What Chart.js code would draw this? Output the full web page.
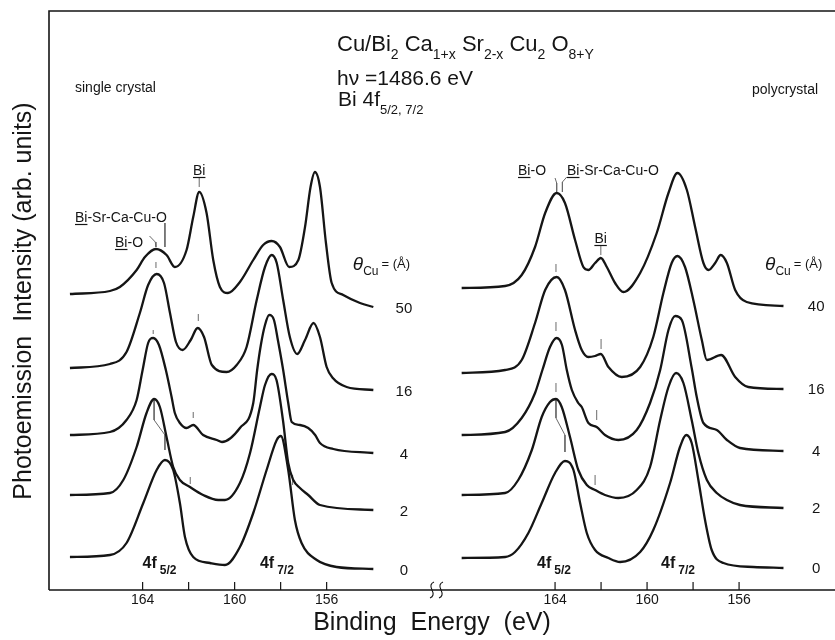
<!DOCTYPE html>
<html>
<head>
<meta charset="utf-8">
<script src="https://cdn.jsdelivr.net/npm/chart.js@4.4.1/dist/chart.umd.min.js"></script>
<style>
  html, body { margin: 0; padding: 0; background: #fff; }
  canvas { display: block; }
</style>
</head>
<body>
<canvas id="xps" width="835" height="640"></canvas>
<script>
'use strict';

const FONT = '"Liberation Sans", Arial, sans-serif';
const INK = '#151515';
const MARK = '#6a6a6a';

// binding energy (eV) and plotted height (arb. units, offsets included)
// --- single crystal, theta_Cu = 50, 16, 4, 2, 0 A ---
const SC_LABELS = ['50', '16', '4', '2', '0'];
const SC_E50 = [167.16, 165.42, 164.99, 164.26, 163.9, 163.42, 162.96, 162.6, 162.09, 161.8, 161.54, 161.22, 160.93, 160.64, 160.29, 159.77, 159.19, 158.76, 158.39, 158.03, 157.63, 157.23, 156.94, 156.7, 156.51, 156.29, 156.03, 155.78, 155.28, 154.55, 153.97];
const SC_I50 = [296, 299, 303, 320, 333, 341, 335, 323, 340, 373, 398, 377, 330, 303, 297, 308, 330, 345, 349, 343, 323, 330, 363, 403, 418, 403, 347, 307, 295, 287, 283];
const SC_E16 = [167.16, 165.42, 164.7, 164.12, 163.76, 163.39, 163.07, 162.81, 162.55, 162.26, 161.91, 161.61, 161.33, 160.99, 160.35, 159.91, 159.48, 159.04, 158.68, 158.39, 158.17, 157.89, 157.6, 157.28, 156.94, 156.57, 156.29, 156.0, 155.73, 155.13, 153.97];
const SC_I16 = [222, 226, 238, 277, 305, 316, 307, 277, 248, 240, 250, 262, 253, 225, 218, 225, 243, 290, 323, 335, 327, 290, 253, 236, 250, 267, 253, 223, 212, 203, 200];
const SC_E4 = [167.16, 165.42, 164.7, 164.26, 164.0, 163.76, 163.54, 163.29, 162.99, 162.74, 162.6, 162.38, 162.09, 161.8, 161.37, 160.78, 160.55, 159.77, 159.19, 159.02, 158.86, 158.68, 158.5, 158.29, 158.12, 157.89, 157.67, 157.52, 157.16, 156.8, 156.5, 156.29, 155.71, 153.97];
const SC_I4 = [155, 158, 170, 190, 220, 247, 252, 245, 220, 193, 177, 167, 162, 165, 155, 150, 148, 162, 187, 220, 245, 265, 275, 270, 250, 220, 187, 168, 165, 162, 155, 147, 141, 137];
const SC_E2 = [167.16, 165.42, 164.84, 164.26, 163.83, 163.5, 163.25, 162.96, 162.67, 162.38, 161.94, 161.37, 160.71, 160.42, 159.77, 159.33, 158.9, 158.68, 158.4, 158.18, 157.9, 157.67, 157.45, 157.16, 156.8, 156.29, 153.97];
const SC_I2 = [95, 97, 110, 143, 177, 191, 183, 153, 123, 110, 103, 95, 90, 90, 107, 137, 183, 205, 216, 210, 170, 127, 110, 102, 95, 85, 80];
const SC_E0 = [167.16, 165.42, 164.7, 163.97, 163.39, 163.03, 162.67, 162.38, 162.16, 161.8, 161.07, 160.42, 159.77, 159.19, 158.61, 158.17, 157.99, 157.67, 157.38, 157.09, 156.43, 155.57, 153.97];
const SC_I0 = [33, 35, 47, 87, 120, 130, 120, 87, 53, 33, 27, 25, 43, 77, 120, 150, 154, 120, 70, 47, 30, 23, 21];

// --- polycrystal, theta_Cu = 40, 16, 4, 2, 0 A ---
const PC_LABELS = ['40', '16', '4', '2', '0'];
const PC_E40 = [168.06, 166.17, 165.45, 164.87, 164.43, 163.93, 163.57, 163.13, 162.77, 162.55, 162.26, 162.01, 161.75, 161.39, 161.03, 160.3, 159.58, 159.07, 158.68, 158.27, 157.91, 157.55, 157.33, 157.04, 156.8, 156.53, 156.17, 155.67, 154.07];
const PC_I40 = [302, 304, 315, 343, 377, 397, 387, 350, 323, 320, 327, 332, 323, 307, 298, 317, 357, 397, 417, 400, 363, 327, 320, 327, 335, 327, 300, 288, 284];
const PC_E16 = [168.06, 166.17, 165.45, 164.87, 164.43, 163.93, 163.57, 163.13, 162.84, 162.55, 162.26, 162.01, 161.68, 161.1, 160.3, 159.73, 159.29, 158.93, 158.68, 158.35, 157.99, 157.62, 157.4, 156.78, 156.17, 155.6, 154.07];
const PC_I16 = [217, 220, 230, 267, 300, 313, 300, 260, 240, 233, 234, 236, 223, 213, 223, 253, 297, 327, 334, 323, 290, 250, 230, 235, 213, 203, 201];
const PC_E4 = [168.06, 166.17, 165.45, 164.87, 164.55, 164.22, 163.93, 163.7, 163.49, 163.27, 162.99, 162.84, 162.55, 162.19, 161.83, 161.25, 160.45, 159.87, 159.43, 159.07, 158.78, 158.49, 158.06, 157.84, 157.55, 156.97, 156.53, 155.96, 154.07];
const PC_I4 = [155, 158, 172, 197, 220, 243, 252, 245, 220, 200, 187, 183, 167, 163, 155, 150, 160, 187, 220, 260, 274, 270, 222, 193, 167, 160, 150, 142, 139];
const PC_E2 = [168.06, 166.17, 165.6, 165.01, 164.58, 164.22, 163.96, 163.71, 163.35, 162.99, 162.62, 162.26, 161.83, 161.25, 160.45, 159.87, 159.43, 159.07, 158.74, 158.42, 158.06, 157.77, 157.4, 156.97, 156.53, 155.96, 154.07];
const PC_I2 = [95, 97, 110, 140, 173, 188, 191, 183, 153, 120, 105, 100, 95, 92, 100, 123, 170, 203, 217, 207, 170, 137, 110, 97, 90, 85, 82];
const PC_E0 = [168.06, 166.17, 165.74, 165.16, 164.58, 164.0, 163.57, 163.2, 162.91, 162.62, 162.26, 161.68, 161.17, 160.3, 159.73, 159.0, 158.57, 158.3, 158.06, 157.77, 157.48, 157.19, 156.68, 155.38, 154.07];
const PC_I0 = [32, 33, 38, 57, 87, 117, 129, 120, 87, 57, 40, 32, 28, 38, 60, 107, 143, 155, 147, 110, 70, 40, 27, 23, 22];

// thin peak markers and leaders, [energy, height] polylines
const SC_MARKS = [
  [[163.7, 354], [163.45, 348], [163.42, 343]],
  [[163.03, 367], [163.03, 343]],
  [[161.54, 403], [161.54, 413]],
  [[163.42, 322], [163.42, 328]],
  [[161.58, 269], [161.58, 276]],
  [[163.54, 256], [163.54, 260]],
  [[161.8, 172], [161.8, 178]],
  [[163.5, 190], [163.5, 170], [163.03, 155], [163.03, 140]],
  [[161.93, 106], [161.93, 113]],
  [[157.48, 105], [157.48, 115]],
];
const PC_MARKS = [
  [[164.0, 412], [163.93, 407], [163.93, 398]],
  [[163.49, 413], [163.68, 408], [163.68, 398]],
  [[162.01, 335], [162.01, 344]],
  [[163.96, 318], [163.96, 326]],
  [[162.0, 241], [162.0, 251]],
  [[163.96, 259], [163.96, 268]],
  [[162.19, 170], [162.19, 180]],
  [[163.96, 198], [163.96, 207]],
  [[163.96, 190], [163.96, 172], [163.57, 155], [163.57, 138]],
  [[162.26, 105], [162.26, 115]],
];

const TICKS_MAJOR = [164, 160, 156];
const TICKS_MINOR = [162, 158];

function curve(E, I, axis) {
  return {
    xAxisID: axis,
    data: E.map((e, i) => ({ x: e, y: I[i] })),
    borderColor: INK,
    borderWidth: 2.3,
    pointRadius: 0,
    cubicInterpolationMode: 'monotone',
    fill: false,
  };
}

function marker(points, axis) {
  return {
    xAxisID: axis,
    data: points.map(p => ({ x: p[0], y: p[1] })),
    borderColor: MARK,
    borderWidth: 1,
    pointRadius: 0,
    tension: 0,
    fill: false,
  };
}

const datasets = [
  curve(SC_E50, SC_I50, 'xL'),
  curve(SC_E16, SC_I16, 'xL'),
  curve(SC_E4, SC_I4, 'xL'),
  curve(SC_E2, SC_I2, 'xL'),
  curve(SC_E0, SC_I0, 'xL'),
  curve(PC_E40, PC_I40, 'xR'),
  curve(PC_E16, PC_I16, 'xR'),
  curve(PC_E4, PC_I4, 'xR'),
  curve(PC_E2, PC_I2, 'xR'),
  curve(PC_E0, PC_I0, 'xR'),
  ...SC_MARKS.map(m => marker(m, 'xL')),
  ...PC_MARKS.map(m => marker(m, 'xR')),
];

// text with subscripts: parts = [[text, isSub], ...]
function rich(ctx, x, y, parts, size) {
  let cx = x;
  parts.forEach(([t, sub]) => {
    const fs = sub ? Math.round(size * 0.62) : size;
    ctx.font = `${fs}px ${FONT}`;
    ctx.fillText(t, cx, sub ? y + size * 0.36 : y);
    cx += ctx.measureText(t).width;
  });
  return cx;
}

function underlinedBi(ctx, x, y, size, rest, align) {
  ctx.font = `${size}px ${FONT}`;
  const full = 'Bi' + rest;
  const w = ctx.measureText(full).width;
  const left = align === 'center' ? x - w / 2 : x;
  ctx.textAlign = 'left';
  ctx.fillText(full, left, y);
  ctx.beginPath();
  ctx.moveTo(left, y + 2.5);
  ctx.lineTo(left + ctx.measureText('Bi').width, y + 2.5);
  ctx.lineWidth = 1.2;
  ctx.stroke();
}

function theta(ctx, x, y) {
  ctx.font = `italic 19px ${FONT}`;
  ctx.fillText('θ', x, y);
  let cx = x + ctx.measureText('θ').width;
  ctx.font = `12px ${FONT}`;
  ctx.fillText('Cu', cx, y + 5);
  cx += ctx.measureText('Cu').width + 3;
  ctx.font = `13px ${FONT}`;
  ctx.fillText('= (Å)', cx, y - 2);
}

function fourF(ctx, x, y, sub) {
  ctx.font = `bold 16px ${FONT}`;
  ctx.fillText('4f', x, y);
  const cx = x + ctx.measureText('4f').width + 3;
  ctx.font = `bold 12px ${FONT}`;
  ctx.fillText(sub, cx, y + 6);
}

const decor = {
  id: 'decor',
  afterDraw(chart) {
    const { ctx, chartArea: a, scales } = chart;
    const xL = scales.xL;
    const xR = scales.xR;
    const y = scales.y;
    ctx.save();
    ctx.strokeStyle = INK;
    ctx.fillStyle = INK;

    // frame and energy axis
    ctx.lineWidth = 1.6;
    ctx.beginPath();
    ctx.moveTo(a.left, a.bottom);
    ctx.lineTo(a.left, a.top);
    ctx.lineTo(a.right, a.top);
    ctx.moveTo(a.left, a.bottom);
    ctx.lineTo(a.right, a.bottom);
    ctx.stroke();

    ctx.lineWidth = 1.2;
    ctx.font = `14px ${FONT}`;
    ctx.textAlign = 'center';
    ctx.textBaseline = 'middle';
    [xL, xR].forEach(sc => {
      ctx.beginPath();
      TICKS_MAJOR.concat(TICKS_MINOR).forEach(v => {
        const px = sc.getPixelForValue(v);
        ctx.moveTo(px, a.bottom);
        ctx.lineTo(px, a.bottom - 8);
      });
      ctx.stroke();
      TICKS_MAJOR.forEach(v => ctx.fillText(String(v), sc.getPixelForValue(v), a.bottom + 10));
    });

    // axis break
    ctx.lineWidth = 1.1;
    [432, 441].forEach(bx => {
      ctx.beginPath();
      ctx.moveTo(bx + 2, a.bottom - 8);
      ctx.quadraticCurveTo(bx - 3, a.bottom - 6, bx, a.bottom);
      ctx.quadraticCurveTo(bx + 3, a.bottom + 6, bx - 2, a.bottom + 8);
      ctx.stroke();
    });

    // axis titles
    ctx.font = `25px ${FONT}`;
    ctx.fillText('Binding  Energy  (eV)', 432, 623);
    ctx.save();
    ctx.translate(24, 301);
    ctx.rotate(-Math.PI / 2);
    ctx.fillText('Photoemission  Intensity (arb. units)', 0, 0);
    ctx.restore();

    // title block
    ctx.textAlign = 'left';
    ctx.textBaseline = 'alphabetic';
    rich(ctx, 337, 51, [['Cu/Bi'], ['2', 1], [' Ca'], ['1+x', 1], [' Sr'], ['2-x', 1], [' Cu'], ['2', 1], [' O'], ['8+Y', 1]], 22);
    rich(ctx, 337, 85, [['hν =1486.6 eV']], 21);
    rich(ctx, 338, 106, [['Bi 4f'], ['5/2, 7/2', 1]], 21);

    ctx.font = `14px ${FONT}`;
    ctx.fillText('single crystal', 75, 92);
    ctx.fillText('polycrystal', 752, 94);

    // peak labels
    ctx.lineWidth = 1;
    underlinedBi(ctx, xL.getPixelForValue(166.94), y.getPixelForValue(368), 14, '-Sr-Ca-Cu-O', 'left');
    underlinedBi(ctx, xL.getPixelForValue(165.2), y.getPixelForValue(343), 14, '-O', 'left');
    underlinedBi(ctx, xL.getPixelForValue(161.54), y.getPixelForValue(415), 14, '', 'center');
    underlinedBi(ctx, xR.getPixelForValue(165.61), y.getPixelForValue(415), 14, '-O', 'left');
    underlinedBi(ctx, xR.getPixelForValue(163.48), y.getPixelForValue(415), 14, '-Sr-Ca-Cu-O', 'left');
    underlinedBi(ctx, xR.getPixelForValue(162.02), y.getPixelForValue(347), 14, '', 'center');

    fourF(ctx, xL.getPixelForValue(164.0), y.getPixelForValue(22), '5/2');
    fourF(ctx, xL.getPixelForValue(158.9), y.getPixelForValue(22), '7/2');
    fourF(ctx, xR.getPixelForValue(164.78), y.getPixelForValue(22), '5/2');
    fourF(ctx, xR.getPixelForValue(159.39), y.getPixelForValue(22), '7/2');

    theta(ctx, xL.getPixelForValue(154.86), y.getPixelForValue(320));
    theta(ctx, xR.getPixelForValue(154.87), y.getPixelForValue(320));

    // coverage labels at the end of each curve
    ctx.font = `15px ${FONT}`;
    ctx.textAlign = 'center';
    ctx.textBaseline = 'middle';
    [SC_I50, SC_I16, SC_I4, SC_I2, SC_I0].forEach((I, i) => {
      ctx.fillText(SC_LABELS[i], xL.getPixelForValue(152.64), y.getPixelForValue(I[I.length - 1]) + 2);
    });
    [PC_I40, PC_I16, PC_I4, PC_I2, PC_I0].forEach((I, i) => {
      ctx.fillText(PC_LABELS[i], xR.getPixelForValue(152.65), y.getPixelForValue(I[I.length - 1]) + 1);
    });
    ctx.restore();
  },
};

new Chart(document.getElementById('xps'), {
  type: 'line',
  data: { datasets },
  options: {
    responsive: false,
    animation: false,
    events: [],
    layout: { padding: { left: 49, top: 11, right: 0, bottom: 50 } },
    plugins: { legend: { display: false }, tooltip: { enabled: false } },
    scales: {
      xL: { type: 'linear', display: false, reverse: true, min: 133.9, max: 168.07 },
      xR: { type: 'linear', display: false, reverse: true, min: 151.83, max: 186.0 },
      y: { type: 'linear', display: false, min: 0, max: 579 },
    },
  },
  plugins: [decor],
});
</script>
</body>
</html>
